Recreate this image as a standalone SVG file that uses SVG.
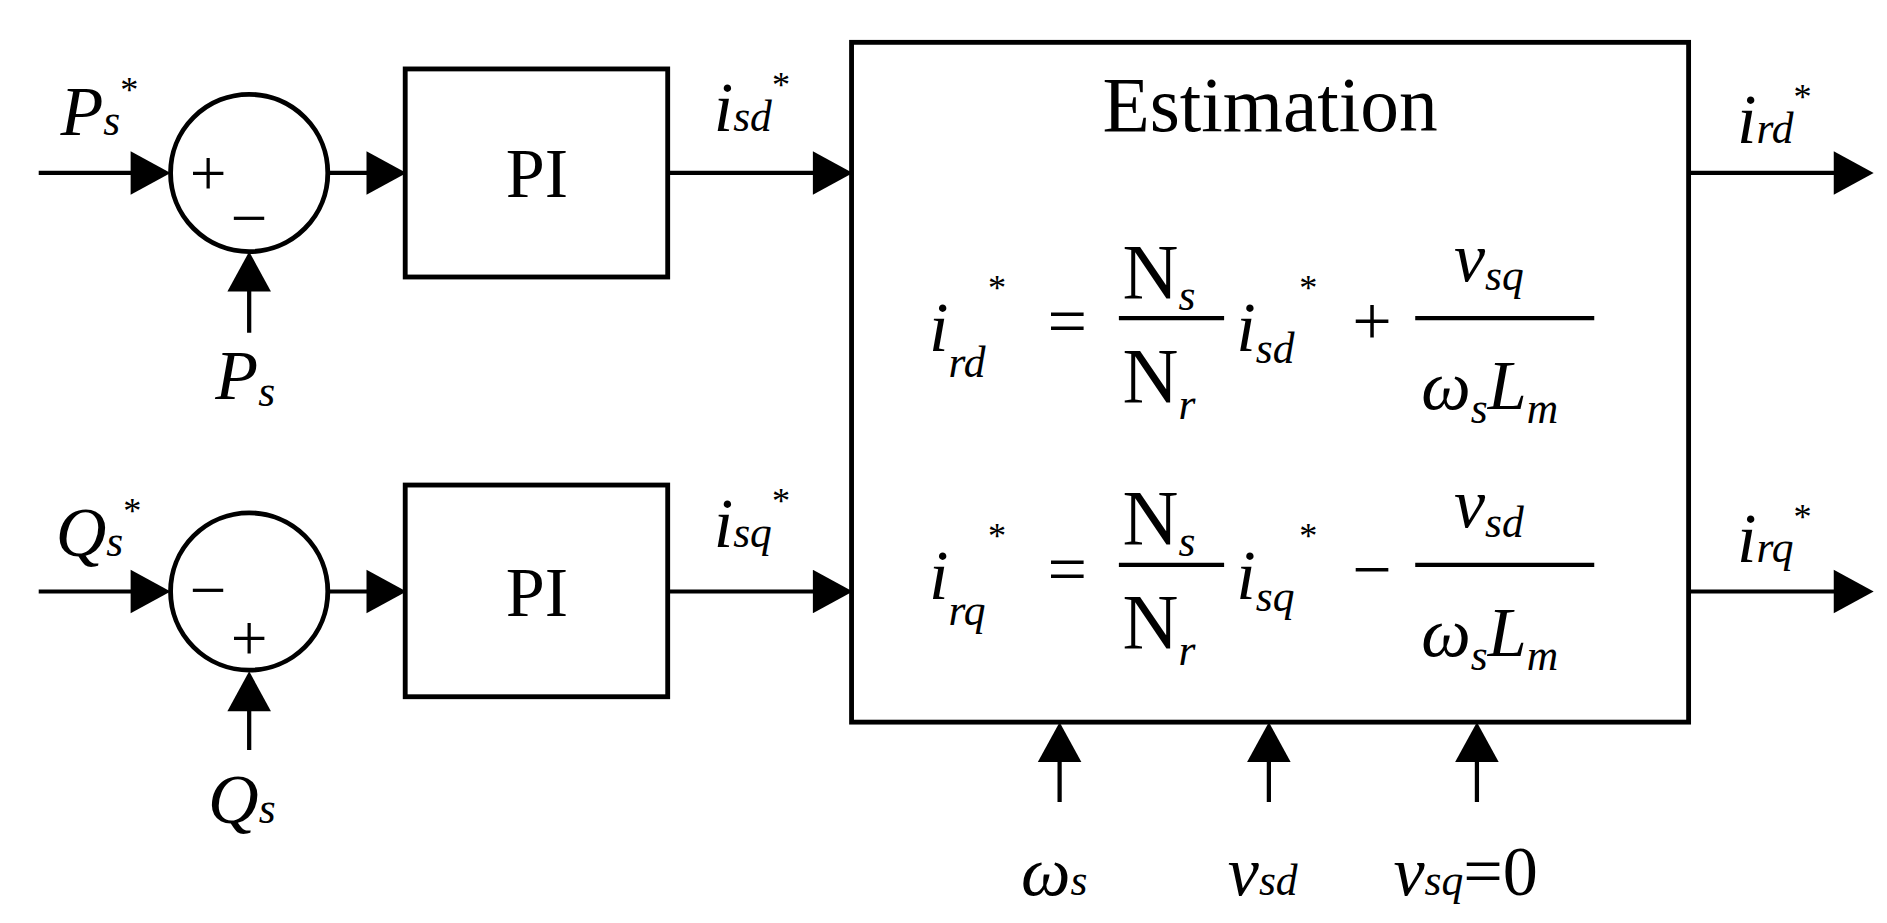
<svg xmlns="http://www.w3.org/2000/svg" width="1887" height="923" viewBox="0 0 1887 923">
<style>
.l{stroke:#000;stroke-width:3.5;fill:none}
.b{stroke:#000;stroke-width:4;fill:#fff}
text{font-family:"Liberation Serif",serif;fill:#000}
.i{font-style:italic}
.big{font-size:58px}
.sub{font-size:36px}
.st{font-size:30px}
.sg{font-size:54px}
</style>
<defs><path id="ah" d="M0,0 L-33,-18 L-33,18 z"/></defs>
<rect width="1887" height="923" fill="#fff"/>
<g transform="scale(1.2096)">
<g id="connectors">
<path class="l" d="M32,143 H112 M270,143 H305 M552,143 H674 M206,275 V238 M32,489 H112 M270,489 H305 M552,489 H674 M206,620 V585 M1396,143 H1518 M1396,489 H1518 M876,663 V627 M1049,663 V627 M1221,663 V627"/>
<use href="#ah" x="141" y="143"/><use href="#ah" x="336" y="143"/><use href="#ah" x="705" y="143"/>
<use href="#ah" transform="translate(206,208) rotate(-90)"/>
<use href="#ah" x="141" y="489"/><use href="#ah" x="336" y="489"/><use href="#ah" x="705" y="489"/>
<use href="#ah" transform="translate(206,555) rotate(-90)"/>
<use href="#ah" x="1549" y="143"/><use href="#ah" x="1549" y="489"/>
<use href="#ah" transform="translate(876,597) rotate(-90)"/>
<use href="#ah" transform="translate(1049,597) rotate(-90)"/>
<use href="#ah" transform="translate(1221,597) rotate(-90)"/>
</g>
<g id="sum1"><circle class="b" cx="206" cy="143" r="65"/><text x="172" y="161" class="sg" text-anchor="middle">+</text><text x="206" y="198" class="sg" text-anchor="middle">−</text></g>
<g id="sum2"><circle class="b" cx="206" cy="489" r="65"/><text x="172" y="506" class="sg" text-anchor="middle">−</text><text x="206" y="546" class="sg" text-anchor="middle">+</text></g>
<g id="pi1"><rect class="b" x="335" y="57" width="217" height="172"/><text x="444" y="163" class="big" text-anchor="middle">PI</text></g>
<g id="pi2"><rect class="b" x="335" y="401" width="217" height="175"/><text x="444" y="509" class="big" text-anchor="middle">PI</text></g>
<g id="labels">
<text x="50" y="112" class="big i">P<tspan class="sub" dy="0">s</tspan><tspan class="st" dy="-28" font-style="normal">*</tspan></text>
<text x="178" y="330" class="big i">P<tspan class="sub" dy="6">s</tspan></text>
<text x="46" y="460" class="big i">Q<tspan class="sub" dy="0">s</tspan><tspan class="st" dy="-28" font-style="normal">*</tspan></text>
<text x="172" y="680" class="big i">Q<tspan class="sub" dy="0">s</tspan></text>
<text x="590" y="108" class="big i">i<tspan class="sub" dy="0">sd</tspan><tspan class="st" dy="-28" font-style="normal">*</tspan></text>
<text x="590" y="452" class="big i">i<tspan class="sub" dy="0">sq</tspan><tspan class="st" dy="-28" font-style="normal">*</tspan></text>
<text x="1436" y="118" class="big i">i<tspan class="sub" dy="0">rd</tspan><tspan class="st" dy="-28" font-style="normal">*</tspan></text>
<text x="1436" y="465" class="big i">i<tspan class="sub" dy="0">rq</tspan><tspan class="st" dy="-28" font-style="normal">*</tspan></text>
<text x="844" y="740" class="big i">ω<tspan class="sub">s</tspan></text>
<text x="1015" y="740" class="big i">v<tspan class="sub">sd</tspan></text>
<text x="1152" y="740" class="big i">v<tspan class="sub">sq</tspan><tspan font-style="normal">=0</tspan></text>
</g>
<g id="estimation">
<rect class="b" x="704" y="35" width="692" height="562"/>
<text x="1050" y="108" font-size="64" text-anchor="middle">Estimation</text>
<g class="big i">
<text x="768" y="290">i<tspan class="sub" dy="22">rd</tspan><tspan class="st" dy="-64" dx="2" font-style="normal">*</tspan></text>
<text x="866" y="285" font-style="normal">=</text>
<text x="928" y="246" font-style="normal" font-size="64">N<tspan class="sub" font-style="italic" dy="10">s</tspan></text>
<path class="l" d="M925,263 H1012 M1170,263 H1318 M925,467 H1012 M1170,467 H1318"/>
<text x="928" y="332" font-style="normal" font-size="64">N<tspan class="sub" font-style="italic" dy="14">r</tspan></text>
<text x="1022" y="290">i<tspan class="sub" dy="10">sd</tspan><tspan class="st" dy="-52" dx="4" font-style="normal">*</tspan></text>
<text x="1118" y="285" font-style="normal">+</text>
<text x="1202" y="232">v<tspan class="sub" dy="8">sq</tspan></text>
<text x="1175" y="338">ω<tspan class="sub" dy="12">s</tspan><tspan dy="-12">L</tspan><tspan class="sub" dy="12">m</tspan></text>
<text x="768" y="495">i<tspan class="sub" dy="22">rq</tspan><tspan class="st" dy="-64" dx="2" font-style="normal">*</tspan></text>
<text x="866" y="490" font-style="normal">=</text>
<text x="928" y="450" font-style="normal" font-size="64">N<tspan class="sub" font-style="italic" dy="10">s</tspan></text>
<text x="928" y="536" font-style="normal" font-size="64">N<tspan class="sub" font-style="italic" dy="14">r</tspan></text>
<text x="1022" y="495">i<tspan class="sub" dy="10">sq</tspan><tspan class="st" dy="-52" dx="4" font-style="normal">*</tspan></text>
<text x="1118" y="490" font-style="normal">−</text>
<text x="1202" y="436">v<tspan class="sub" dy="8">sd</tspan></text>
<text x="1175" y="542">ω<tspan class="sub" dy="12">s</tspan><tspan dy="-12">L</tspan><tspan class="sub" dy="12">m</tspan></text>
</g>
</g>
</g>
</svg>
